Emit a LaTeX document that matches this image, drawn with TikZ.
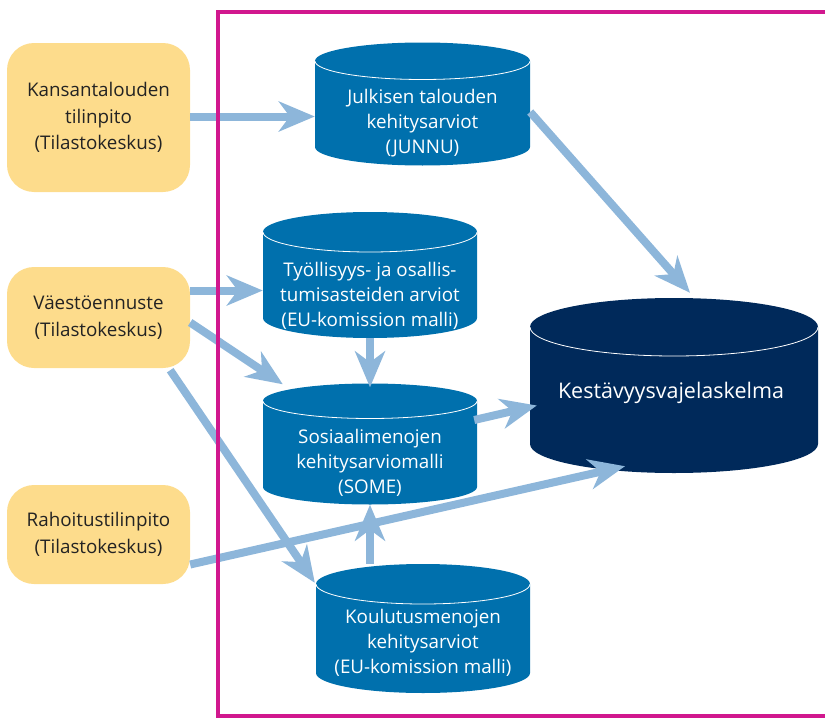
\documentclass[tikz,border=0pt]{standalone}
\usepackage{fontspec}
\setmainfont{Open Sans}
\usetikzlibrary{arrows.meta,calc}
\definecolor{boxyellow}{RGB}{253,220,140}
\definecolor{cylblue}{RGB}{0,112,173}
\definecolor{cylnavy}{RGB}{0,41,90}
\definecolor{arrowblue}{RGB}{141,182,218}
\definecolor{framemag}{RGB}{209,24,142}
\definecolor{boxtext}{RGB}{35,35,35}
\newcommand\drumshape[6]{%
  \fill[#6] (#1,#3) arc[start angle=180,end angle=0,x radius={(#2-#1)/2*1pt},y radius={#5*1pt}]
     -- (#2,#4) arc[start angle=360,end angle=180,x radius={(#2-#1)/2*1pt},y radius={#5*1pt}] -- cycle;
  \draw[white,line width=0.8pt] (#1,#3) arc[start angle=180,end angle=360,x radius={(#2-#1)/2*1pt},y radius={#5*1pt}];
}
\begin{document}
\begin{tikzpicture}[x=1pt,y=-1pt,
  srcbox/.style={fill=boxyellow,rounded corners=27pt,inner sep=0pt,text=boxtext,align=center,
     font=\fontsize{18.8}{26.5}\selectfont},
  cylarea/.style={inner sep=0pt},
  cyltext/.style={text=white,align=center,font=\fontsize{18.8}{25}\selectfont},
  flow/.style={draw=arrowblue,line width=8pt,
     -{Stealth[length=36pt,width=30pt,inset=11pt,fill=arrowblue]}}]
\useasboundingbox (0,0) rectangle (825,720);

% source boxes
\node[srcbox,minimum width=183pt,minimum height=149pt] (b1) at (98.5,117.5)
  {Kansantalouden\\tilinpito\\(Tilastokeskus)};
\node[srcbox,minimum width=183pt,minimum height=101pt] (b2) at (98.5,317.5)
  {Väestöennuste\\(Tilastokeskus)};
\node[srcbox,minimum width=183pt,minimum height=99pt] (b3) at (98.5,534.5)
  {Rahoitustilinpito\\(Tilastokeskus)};

% cylinders
\drumshape{315}{530}{61}{147}{18.5}{cylblue}
\node[cylarea,minimum width=215pt,minimum height=123pt] (junnu) at (422.5,104) {};
\node[cyltext] (junnut) at (422.5,123) {Julkisen talouden\\kehitysarviot\\(JUNNU)};

\drumshape{263}{477}{232}{318}{20}{cylblue}
\node[cylarea,minimum width=214pt,minimum height=126pt] (tyo) at (370,275) {};
\node[cyltext] (tyot) at (370,296) {Työllisyys- ja osallis-\\tumisasteiden arviot\\(EU-komission malli)};

\drumshape{263}{477}{401}{487}{17.5}{cylblue}
\node[cylarea,minimum width=214pt,minimum height=121pt] (some) at (370,444) {};
\node[cyltext] (somet) at (370,463) {Sosiaalimenojen\\kehitysarviomalli\\(SOME)};

\drumshape{316}{530}{584}{673}{20}{cylblue}
\node[cylarea,minimum width=214pt,minimum height=129pt] (koulu) at (423,628.5) {};
\node[cyltext] (koulut) at (423,643) {Koulutusmenojen\\kehitysarviot\\(EU-komission malli)};

\drumshape{530}{818}{327}{444}{29}{cylnavy}
\node[cylarea,minimum width=288pt,minimum height=175pt] (kest) at (674,385.5) {};
\node[cyltext,font=\fontsize{21.5}{25}\selectfont] (kestt) at (671,393) {Kestävyysvajelaskelma};

% connectors
\coordinate (b1a) at ([shift={(0,-1)}]b1.east);
\draw[flow] (b1a) -- (b1a -| junnu.west);
\coordinate (b2a) at ([shift={(0,-27)}]b2.east);
\draw[flow] (b2a) -- (b2a -| tyo.west);
\draw[flow] ([shift={(0,5)}]b2.east) -- ([shift={(20,1)}]some.north west);
\draw[flow] ([shift={(-20,2)}]b2.south east) -- ([shift={(-1,19)}]koulu.north west);
\draw[flow] (tyo.south) -- ([shift={(0,4)}]some.north);
\draw[flow] ([shift={(-53,0)}]koulu.north) -- (some.south);
\draw[flow] ([shift={(0,8)}]junnu.east) -- ([shift={(16,-5)}]kest.north);
\draw[flow] ([shift={(-3,-24)}]some.east) -- ([shift={(7,20)}]kest.west);
\draw[flow] ([shift={(0,30)}]b3.east) -- ([shift={(-49,-7)}]kest.south);

% frame
\draw[framemag,line width=4pt] (840,12) -- (218,12) -- (218,716) -- (840,716);
\end{tikzpicture}
\end{document}
